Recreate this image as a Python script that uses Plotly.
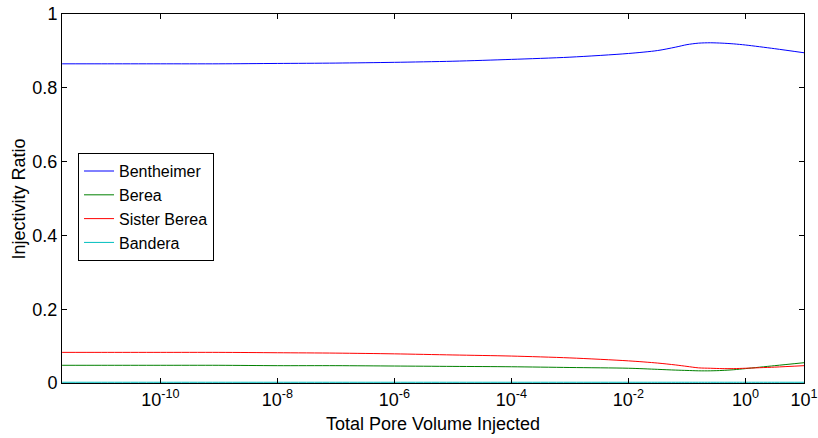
import plotly.graph_objects as go

# Total pore volume injected (x values)
pv = [2.1e-12, 1e-11, 1e-10, 1e-9, 1e-8, 1e-7, 1e-6, 1e-5, 1e-4, 1e-3, 1e-2,
      0.0316, 0.0631, 0.1, 0.158, 0.251, 0.398, 0.631, 1.0, 3.16, 10.0]

bentheimer = [0.865, 0.865, 0.865, 0.865, 0.866, 0.867, 0.869, 0.872, 0.877, 0.883, 0.893,
              0.901, 0.910, 0.917, 0.921, 0.922, 0.921, 0.919, 0.916, 0.906, 0.895]
berea = [0.048, 0.048, 0.048, 0.048, 0.047, 0.047, 0.046, 0.045, 0.044, 0.042, 0.040,
         0.037, 0.035, 0.034, 0.033, 0.033, 0.034, 0.036, 0.039, 0.047, 0.055]
sister_berea = [0.083, 0.083, 0.083, 0.083, 0.082, 0.081, 0.079, 0.076, 0.073, 0.068, 0.060,
                0.054, 0.049, 0.045, 0.041, 0.040, 0.039, 0.039, 0.040, 0.043, 0.047]
bandera = [0.002] * len(pv)

series_names = ["Bentheimer", "Berea", "Sister Berea", "Bandera"]
series_colors = ["#0000ff", "#008000", "#ff0000", "#00bfbf"]
series_values = [bentheimer, berea, sister_berea, bandera]

x_tickvals = [1e-10, 1e-8, 1e-6, 1e-4, 1e-2, 1e0, 1e1]
x_ticktext = ["10<sup>-10</sup>", "10<sup>-8</sup>", "10<sup>-6</sup>", "10<sup>-4</sup>",
              "10<sup>-2</sup>", "10<sup>0</sup>", "10<sup>1</sup>"]
y_tickvals = [0, 0.2, 0.4, 0.6, 0.8, 1]
y_ticktext = ["0", "0.2", "0.4", "0.6", "0.8", "1"]

x_title = "Total Pore Volume Injected"
y_title = "Injectivity Ratio"

fig = go.Figure()
for name, color, vals in zip(series_names, series_colors, series_values):
    fig.add_trace(go.Scatter(x=pv, y=vals, name=name, mode="lines",
                             line=dict(color=color, width=1, shape="spline", smoothing=0.8)))

font_family = "Liberation Sans, Arial, sans-serif"
fig.update_layout(
    width=818, height=438,
    margin=dict(l=62, r=14, t=14, b=55, autoexpand=False),
    paper_bgcolor="white", plot_bgcolor="white",
    font=dict(family=font_family, size=18, color="black"),
    showlegend=True,
    legend=dict(x=0.0216, y=0.623, xanchor="left", yanchor="top",
                bordercolor="black", borderwidth=1, bgcolor="white",
                font=dict(size=16, family=font_family), tracegroupgap=0,
                itemwidth=30),
    xaxis=dict(type="log", range=[-11.68, 1.0], tickvals=x_tickvals, ticktext=x_ticktext,
               ticks="inside", ticklen=5, tickcolor="black", showline=True, linecolor="black",
               linewidth=1, mirror="ticks", showgrid=False, zeroline=False,
               tickfont=dict(size=18), automargin=False),
    yaxis=dict(range=[0, 1], tickvals=y_tickvals, ticktext=y_ticktext,
               ticks="inside", ticklen=5, tickcolor="black", showline=True, linecolor="black",
               linewidth=1, mirror="ticks", showgrid=False, zeroline=False,
               tickfont=dict(size=18), automargin=False),
    annotations=[
        dict(text=x_title, xref="paper", yref="paper", x=0.5, y=-0.078,
             xanchor="center", yanchor="top", showarrow=False, font=dict(size=18)),
        dict(text=y_title, xref="paper", yref="paper", x=-0.058, y=0.5,
             xanchor="center", yanchor="middle", textangle=-90, showarrow=False,
             font=dict(size=18)),
    ],
)

fig.write_html("out.html", config={"displayModeBar": False},
               post_script="document.body.style.margin='0';document.body.style.overflow='hidden';")
